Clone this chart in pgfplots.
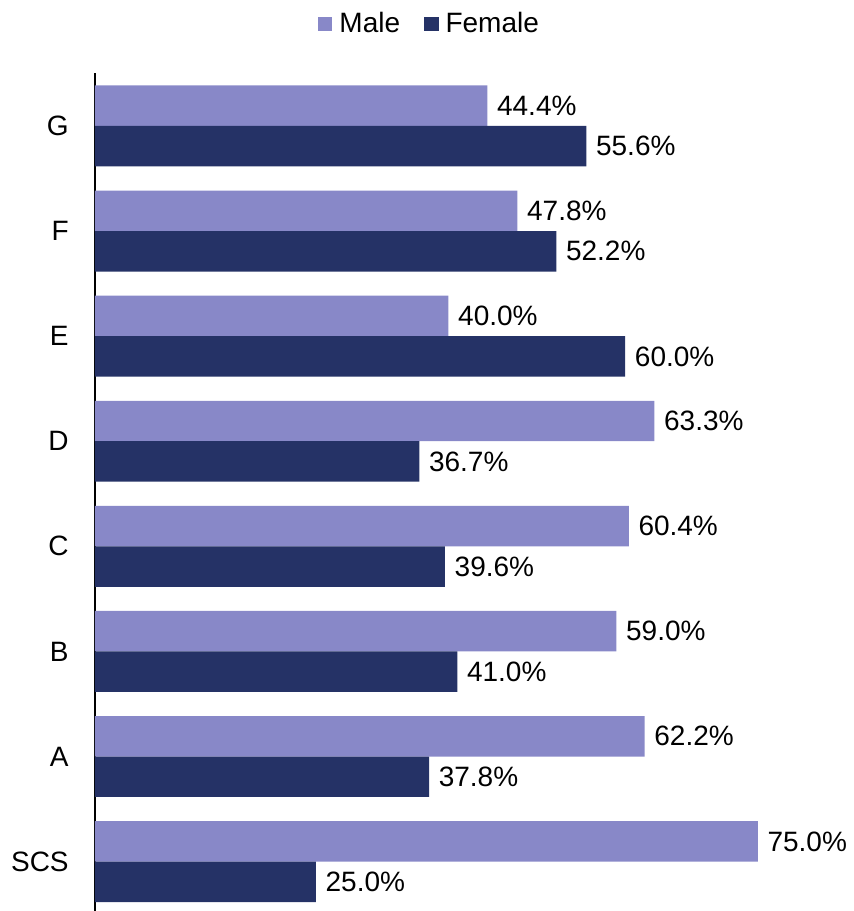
\documentclass[border=0pt]{standalone}
\usepackage{pgfplots}
\pgfplotsset{compat=1.18}
\usepackage{fontspec}
\setmainfont{Liberation Sans}

\definecolor{maleC}{HTML}{8888C8}
\definecolor{femaleC}{HTML}{253266}

\begin{document}
\fontsize{14}{16.8}\selectfont
\begin{tikzpicture}[x=1pt,y=1pt]
\path[use as bounding box] (0,0) rectangle (426.5,455.5);
\begin{axis}[
  at={(47.5pt,0pt)}, anchor=south west,
  scale only axis,
  width=353.5pt, height=418.8pt,
  xbar,
  xmin=0, xmax=80,
  ymin=-0.47, ymax=7.5,
  bar width=0.385,
  hide x axis,
  axis y line*=left,
  y axis line style={-, line width=0.8pt, black},
  ytick={0,...,7},
  yticklabels={SCS,A,B,C,D,E,F,G},
  major tick length=0pt,
  yticklabel style={anchor=east, xshift=-8.3pt, font=\fontsize{14}{16.8}\selectfont},
  /pgf/number format/assume math mode=true,
  nodes near coords={\pgfmathprintnumber[fixed,fixed zerofill,precision=1]{\pgfplotspointmeta}\%},
  nodes near coords style={anchor=west, font=\fontsize{14}{16.8}\selectfont, black},
  legend style={draw=none, at={(0.4745,1.059)}, anchor=center,
    legend columns=-1, font=\fontsize{14}{16.8}\selectfont,
    /tikz/every odd column/.append style={column sep=1.5pt},
    /tikz/every even column/.append style={column sep=10pt},
    inner sep=0pt},
  legend cell align=left,
]
% Male bars sit above the category centre, Female bars below it
\addplot[fill=maleC, draw=none, bar shift=0.1925,
  legend image code/.code={\fill[maleC] (0pt,-3.6pt) rectangle (7.2pt,3.6pt);}]
  coordinates {(75.0,0) (62.2,1) (59.0,2) (60.4,3) (63.3,4) (40.0,5) (47.8,6) (44.4,7)};
\addlegendentry{Male}
\addplot[fill=femaleC, draw=none, bar shift=-0.1925,
  legend image code/.code={\fill[femaleC] (0pt,-3.6pt) rectangle (7.2pt,3.6pt);}]
  coordinates {(25.0,0) (37.8,1) (41.0,2) (39.6,3) (36.7,4) (60.0,5) (52.2,6) (55.6,7)};
\addlegendentry{Female}
\end{axis}
\end{tikzpicture}
\end{document}
